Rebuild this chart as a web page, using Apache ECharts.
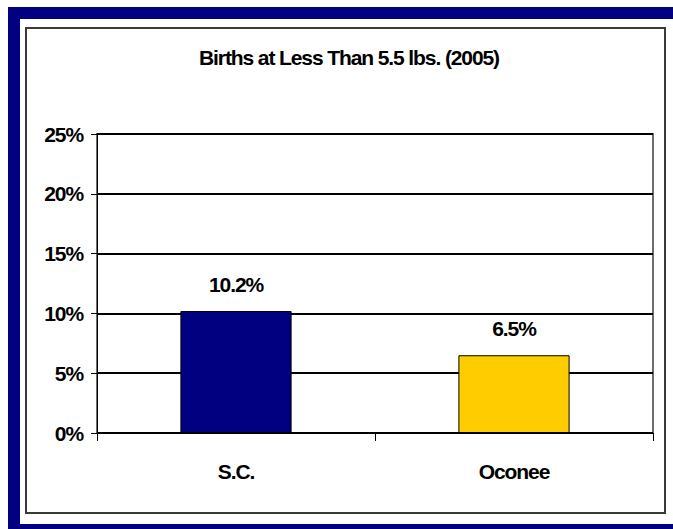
<!DOCTYPE html>
<html>
<head>
<meta charset="utf-8">
<script src="https://cdn.jsdelivr.net/npm/echarts@6/dist/echarts.min.js"></script>
<style>
  html, body { margin: 0; padding: 0; background: #ffffff; overflow: hidden; width: 673px; height: 529px; }
  .navy { position: absolute; background: #000080; }
  #inner { position: absolute; left: 25px; top: 27px; width: 641px; height: 487px; box-sizing: border-box; border: 2px solid #3a3a3a; }
  #chart { position: absolute; left: 0; top: 0; width: 673px; height: 529px; }
  svg text { letter-spacing: -1.1px; }
</style>
</head>
<body>
<div class="navy" style="left:8px; top:7px; width:665px; height:12px;"></div>
<div class="navy" style="left:8px; top:7px; width:12px; height:522px;"></div>
<div class="navy" style="left:8px; top:524px; width:665px; height:5px;"></div>
<div id="inner"></div>
<div id="chart"></div>
<script>
var titleText = 'Births at Less Than 5.5 lbs. (2005)';
var categories = ['S.C.', 'Oconee'];
var values = [0.102, 0.065];
var barColors = ['#000080', '#FFCC00'];
var yTicks = [0, 0.05, 0.10, 0.15, 0.20, 0.25];

var chart = echarts.init(document.getElementById('chart'), null, { renderer: 'svg' });
var font = 'Liberation Sans, Arial, sans-serif';
chart.setOption({
  animation: false,
  backgroundColor: 'transparent',
  title: {
    text: titleText,
    left: 344,
    textAlign: 'center',
    top: 42,
    textStyle: { fontFamily: font, fontWeight: 'bold', fontSize: 21, color: '#000' }
  },
  grid: { left: 97, right: 20, top: 134, bottom: 96, show: true, borderColor: '#6e6e6e', borderWidth: 2, backgroundColor: 'transparent' },
  xAxis: {
    type: 'category',
    data: categories,
    axisLine: { lineStyle: { color: '#000', width: 1 } },
    axisTick: { show: true, length: 8, lineStyle: { color: '#000' } },
    axisLabel: { margin: 28, fontFamily: font, fontWeight: 'bold', fontSize: 21, color: '#000' }
  },
  yAxis: {
    type: 'value',
    min: yTicks[0],
    max: yTicks[yTicks.length - 1],
    interval: 0.05,
    axisLine: { show: true, lineStyle: { color: '#000', width: 1 } },
    axisTick: { show: true, length: 6, lineStyle: { color: '#000' } },
    splitLine: { show: true, lineStyle: { color: '#000', width: 2 } },
    axisLabel: {
      margin: 14,
      fontFamily: font, fontWeight: 'bold', fontSize: 21, color: '#000',
      formatter: function (v) { return Math.round(v * 100) + '%'; }
    }
  },
  series: [{
    type: 'bar',
    barWidth: '40%',
    data: values.map(function (v, i) {
      return { value: v, itemStyle: { color: barColors[i], borderColor: '#000', borderWidth: 1 } };
    }),
    label: {
      show: true,
      position: 'top',
      distance: 16,
      fontFamily: font, fontWeight: 'bold', fontSize: 21, color: '#000',
      formatter: function (p) { return (p.value * 100).toFixed(1) + '%'; }
    }
  }]
});
</script>
</body>
</html>
